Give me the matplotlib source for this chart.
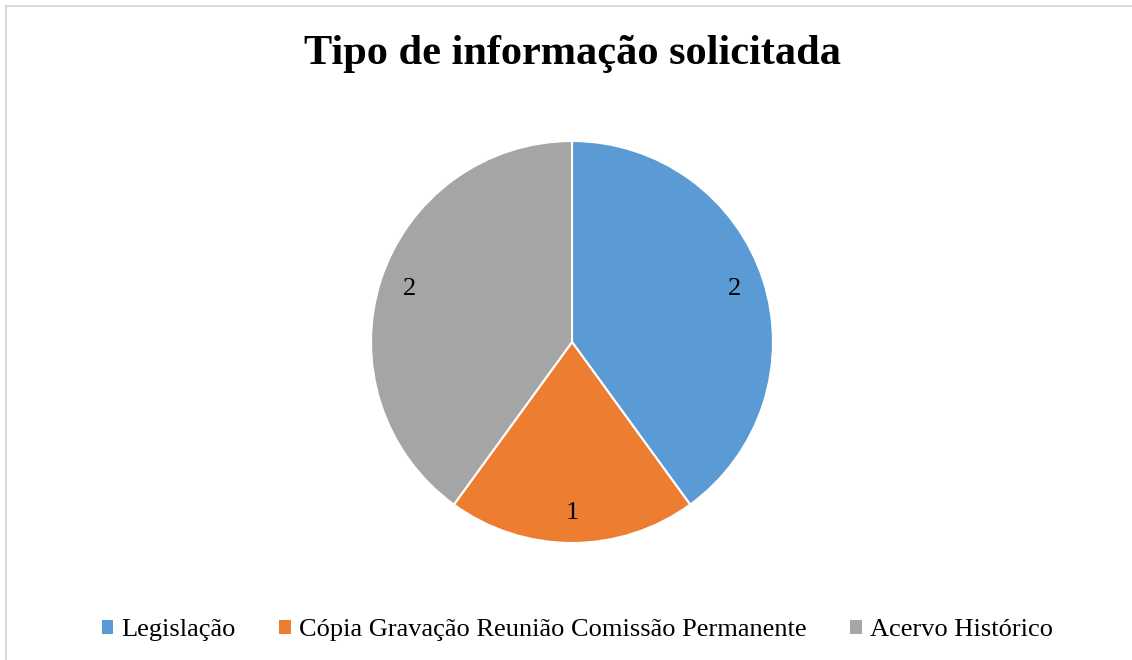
import matplotlib.pyplot as plt
from matplotlib.patches import Patch
from matplotlib.lines import Line2D

categorias = ["Legislação", "Cópia Gravação Reunião Comissão Permanente", "Acervo Histórico"]
valores = [2, 1, 2]
cores = ["#5B9BD5", "#ED7D31", "#A5A5A5"]
titulo = "Tipo de informação solicitada"

plt.rcParams['font.family'] = ['Liberation Serif', 'DejaVu Serif']

W, H = 1132, 660
fig = plt.figure(figsize=(W / 100, H / 100), dpi=100)

# moldura cinza clara (só topo e esquerda aparecem)
fig.add_artist(Line2D([5.5 / W, 5.5 / W], [0, 1 - 5.5 / H], color="#D9D9D9", lw=1.5))
fig.add_artist(Line2D([5.5 / W, 1], [1 - 5.5 / H, 1 - 5.5 / H], color="#D9D9D9", lw=1.5))

cx, cy, r = 572, 342, 201
ax = fig.add_axes([(cx - r) / W, (H - cy - r) / H, 2 * r / W, 2 * r / H])
total = sum(valores)
wedges, textos, auto = ax.pie(
    valores, colors=cores, startangle=90, counterclock=False,
    wedgeprops=dict(edgecolor="white", linewidth=1.5),
    autopct=lambda p: "%d" % round(p * total / 100), pctdistance=0.85,
    textprops=dict(fontsize=19, color="black"))
ax.set_xlim(-1, 1)
ax.set_ylim(-1, 1)
ax.set_aspect("equal")

fig.text(0.5 + 7 / W, 1 - 54 / H, titulo, ha="center", va="center",
         fontsize=30.5, fontweight="bold")

handles = [Patch(facecolor=c, edgecolor="none") for c in cores]
fig.legend(handles, categorias, loc="center", bbox_to_anchor=(0.51, 1 - 630 / H),
           ncol=3, frameon=False, fontsize=19, handlelength=0.45, handleheight=0.45,
           handletextpad=0.3, columnspacing=1.65)

fig.savefig("out.png", dpi=100)
